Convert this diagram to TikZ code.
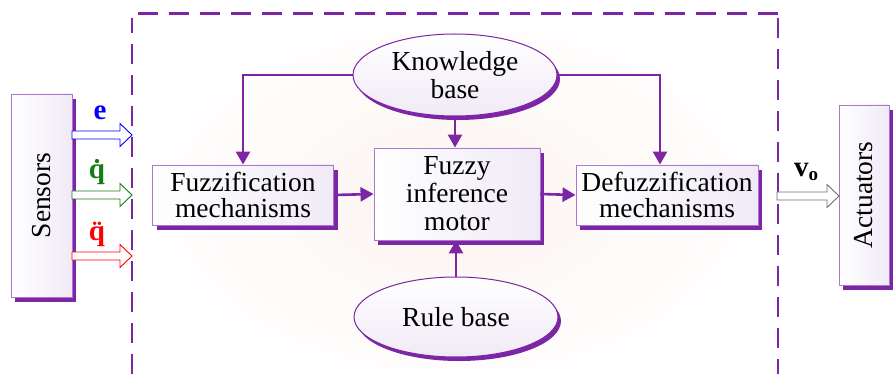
\documentclass[tikz,border=0pt]{standalone}
\usepackage{fontspec}
\setmainfont{Liberation Serif}
\usetikzlibrary{shapes.geometric,shadows,arrows.meta,calc}
\definecolor{purp}{RGB}{125,38,165}
\definecolor{lpurp}{RGB}{172,120,205}
\definecolor{lav}{RGB}{240,234,246}
\definecolor{dgreen}{RGB}{20,125,20}
\definecolor{agrey}{RGB}{110,110,110}
\newcommand\fatarrow[3]{\draw[#3, line width=0.9pt, fill=white] (#1) ++(0,-4) -- ++(#2-12,0) -- ++(0,-7.5) -- ++(12,11.5) -- ++(-12,11.5) -- ++(0,-7.5) -- ++(-#2+12,0) -- cycle;}
\begin{document}
\begin{tikzpicture}[x=1pt,y=-1pt,
  txt/.style={font=\fontsize{27.5}{28}\selectfont, align=center, text=black},
  rbox/.style={txt, draw=lpurp, line width=0.9pt, left color=white, right color=lav, inner sep=0pt,
    drop shadow={shadow xshift=4pt, shadow yshift=-5pt, fill=purp, opacity=1}},
  ebox/.style={txt, ellipse, draw=purp, line width=1pt, top color=white, bottom color=lav, inner sep=0pt,
    drop shadow={shadow xshift=3pt, shadow yshift=-4pt, fill=purp, opacity=1}},
  conn/.style={purp, line width=2.6pt, -{Triangle[length=13pt,width=14pt]}},
  sig/.style={font=\fontsize{29}{29}\selectfont\bfseries}]
\useasboundingbox (0,0) rectangle (894,374);
% faint background glow
\shade[inner color={rgb,255:red,252;green,244;blue,240}, outer color=white] (455,200) ellipse (330pt and 200pt);
% dashed frame
\draw[purp, line width=2.7pt, dash pattern=on 20pt off 11pt] (132,374) -- (132,18);
\draw[purp, line width=2.7pt, dash pattern=on 20pt off 11pt] (138,13.5) -- (778,13.5);
\draw[purp, line width=2.7pt, dash pattern=on 20pt off 11pt] (778,18) -- (778,374);
% nodes
\node[rbox, minimum width=61pt, minimum height=203pt] (sens) at (41.5,195.5) {\rotatebox{90}{Sensors}};
\node[rbox, minimum width=50pt, minimum height=180pt] (act) at (864,195) {\rotatebox{90}{Actuators}};
\node[rbox, minimum width=181pt, minimum height=60pt] (fuzz) at (243,195) {Fuzzification\\[-2pt]mechanisms};
\node[rbox, minimum width=166pt, minimum height=92pt] (inf) at (457,194) {Fuzzy\\inference\\motor};
\node[rbox, minimum width=182pt, minimum height=60pt] (defuzz) at (667,195) {Defuzzification\\[-2pt]mechanisms};
\node[ebox, minimum width=204pt, minimum height=82pt] (kb) at (455,75) {Knowledge\\base};
\node[ebox, minimum width=204pt, minimum height=80pt] (rb) at (456,317) {Rule base};
% connectors
\draw[conn] (kb.west) -| (fuzz.north);
\draw[conn] (kb.east) -| ([xshift=-7pt]defuzz.north);
\draw[conn] (kb.south) -- (kb.south |- inf.north);
\draw[conn] (rb.north) -- (rb.north |- inf.south);
\draw[conn] (fuzz.east) -- (inf.west);
\draw[conn] (inf.east) -- (defuzz.west);
% signal arrows
\coordinate (e0) at (72,135);
\coordinate (q0) at (72,195);
\coordinate (qq0) at (72,256);
\coordinate (v0) at (777,196);
\fatarrow{e0}{60}{blue}
\fatarrow{q0}{60}{dgreen}
\fatarrow{qq0}{60}{red}
\fatarrow{v0}{62}{agrey}
\node[sig, text=blue] (le) at (100,113) {e};
\node[sig, text=dgreen] (lq) at (97,172) {\.q};
\node[sig, text=red] (lqq) at (97,234) {\"q};
\node[sig, text=black] (lv) at (806,172) {v\raisebox{-0.25ex}{\fontsize{19}{19}\selectfont o}};
\end{tikzpicture}
\end{document}
